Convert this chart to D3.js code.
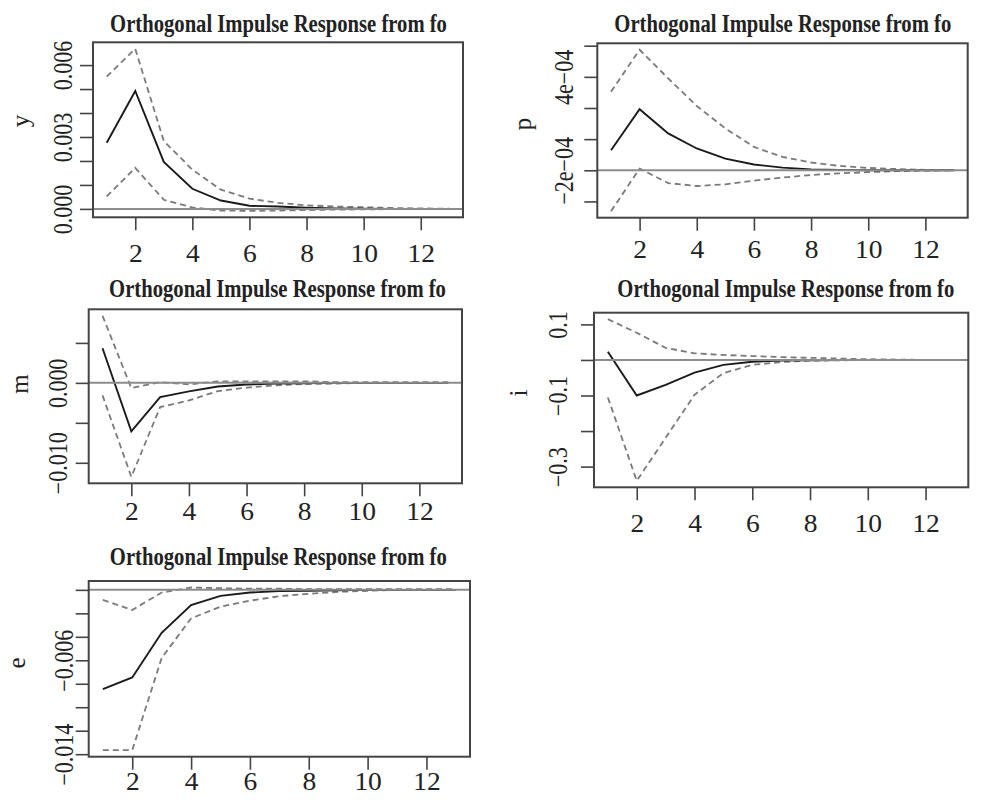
<!DOCTYPE html>
<html>
<head>
<meta charset="utf-8">
<script src="https://cdn.jsdelivr.net/npm/d3@7"></script>
<style>
  body { margin: 0; background: #fff; }
  svg text { font-family: "Liberation Serif", "Times New Roman", Times, serif; fill: #222; }
</style>
</head>
<body>
<div id="chart"></div>
<script>
// Horizonte (pasos) del impulso-respuesta
const steps = [1, 2, 3, 4, 5, 6, 7, 8, 9, 10, 11, 12, 13];
const xTicks = [2, 4, 6, 8, 10, 12];

// Respuesta de y
const yIrf   = [0.00276, 0.00492, 0.00196, 0.00084, 0.00035, 0.00013, 0.00010, 0.00005, 0.00002, 0.00001, 0, 0, 0];
const yUpper = [0.00552, 0.00668, 0.00283, 0.00164, 0.00080, 0.00043, 0.00025, 0.00015, 0.00010, 0.00007, 0.00004, 0.00002, 0.00001];
const yLower = [0.00052, 0.00171, 0.00038, 0.00006, -0.00007, -0.00008, -0.00007, -0.00005, -0.00003, -0.00002, -0.00001, 0, 0];
const yTicks = [0, 0.001, 0.002, 0.003, 0.004, 0.005, 0.006];
const yTickLabels = [[0, "0.000"], [0.003, "0.003"], [0.006, "0.006"]];

// Respuesta de p
const pIrf   = [-0.71e-4, 1.92e-4, 0.37e-4, -0.60e-4, -1.25e-4, -1.63e-4, -1.83e-4, -1.94e-4, -1.98e-4, -2.0e-4, -2.0e-4, -2.0e-4, -2.0e-4];
const pUpper = [3.05e-4, 5.74e-4, 3.9e-4, 2.13e-4, 0.69e-4, -0.5e-4, -1.14e-4, -1.5e-4, -1.72e-4, -1.85e-4, -1.92e-4, -1.97e-4, -1.99e-4];
const pLower = [-4.63e-4, -1.89e-4, -2.82e-4, -3.01e-4, -2.9e-4, -2.66e-4, -2.47e-4, -2.3e-4, -2.2e-4, -2.12e-4, -2.06e-4, -2.02e-4, -2.0e-4];
const pTicks = [-4e-4, -2e-4, 0, 2e-4, 4e-4, 6e-4];
const pTickLabels = [[4e-4, "4e\u221204"], [-2e-4, "\u22122e\u221204"]];

// Respuesta de m
const mIrf   = [0.00433, -0.00606, -0.00178, -0.00107, -0.00045, -0.00020, -0.00010, -0.00005, 0, 0, 0, 0, 0];
const mUpper = [0.0084, -0.00066, 0.0001, -0.0002, 0.0002, 0.0002, 0.0002, 0.0002, 0.0001, 0.0001, 0.0001, 0.0001, 0.0001];
const mLower = [-0.00157, -0.01176, -0.00303, -0.0022, -0.00103, -0.0006, -0.0003, -0.00015, -0.0001, 0, 0, 0, 0];
const mTicks = [-0.010, -0.005, 0, 0.005];
const mTickLabels = [[0, "0.000"], [-0.010, "\u22120.010"]];

// Respuesta de i
const iIrf   = [0.023, -0.100, -0.070, -0.0355, -0.014, -0.005, -0.002, -0.001, 0, 0, 0, 0, 0];
const iUpper = [0.1147, 0.0764, 0.034, 0.0186, 0.014, 0.011, 0.008, 0.006, 0.004, 0.002, 0.001, 0, 0];
const iLower = [-0.1055, -0.340, -0.219, -0.098, -0.037, -0.014, -0.006, -0.002, -0.001, 0, 0, 0, 0];
const iTicks = [-0.3, -0.2, -0.1, 0, 0.1];
const iTickLabels = [[0.1, "0.1"], [-0.1, "\u22120.1"], [-0.3, "\u22120.3"]];

// Respuesta de e
const eIrf   = [-0.00846, -0.00746, -0.00366, -0.00129, -0.00051, -0.00023, -0.0001, -0.00007, -0.00004, 0, 0, 0, 0];
const eUpper = [-0.00086, -0.00171, -0.00023, 0.0002, 0.00014, 0.0001, 0.0001, 0.00005, 0.00005, 0.00005, 0.00005, 0.00005, 0.00005];
const eLower = [-0.01366, -0.01366, -0.0058, -0.00243, -0.00143, -0.00092, -0.00054, -0.00034, -0.00017, -0.00008, 0, 0, 0];
const eTicks = [-0.014, -0.012, -0.010, -0.008, -0.006, -0.004, -0.002, 0];
const eTickLabels = [[-0.006, "\u22120.006"], [-0.014, "\u22120.014"]];

const titulo = "Orthogonal Impulse Response from fo";
const fuente = "'Liberation Serif', 'Times New Roman', Times, serif";

// Paneles: datos + posición de cada caja
const paneles = [
  { name: "y", irf: yIrf, upper: yUpper, lower: yLower, ticks: yTicks, labels: yTickLabels, ref: 0,
    box: [93, 463, 42.3, 217.3], titleX: 278.5, titleY: 31.7, xLabY: 261.7, yLabOff: 21, nameX: 29, nameY: 121 },
  { name: "p", irf: pIrf, upper: pUpper, lower: pLower, ticks: pTicks, labels: pTickLabels, ref: -2e-4,
    box: [597.3, 967.7, 43.3, 217.7], titleX: 782.8, titleY: 31.7, xLabY: 258.3, yLabOff: 24, nameX: 531, nameY: 124 },
  { name: "m", irf: mIrf, upper: mUpper, lower: mLower, ticks: mTicks, labels: mTickLabels, ref: 0,
    box: [88.7, 462, 309.3, 483.3], titleX: 277.5, titleY: 296.7, xLabY: 520, yLabOff: 22, nameX: 28, nameY: 384 },
  { name: "i", irf: iIrf, upper: iUpper, lower: iLower, ticks: iTicks, labels: iTickLabels, ref: 0,
    box: [594, 968.3, 312.7, 487.3], titleX: 785.8, titleY: 296.7, xLabY: 531.7, yLabOff: 27, nameX: 526.7, nameY: 393 },
  { name: "e", irf: eIrf, upper: eUpper, lower: eLower, ticks: eTicks, labels: eTickLabels, ref: 0,
    box: [88.7, 470, 581, 756.7], titleX: 278.3, titleY: 565, xLabY: 790, yLabOff: 16, nameX: 25, nameY: 663 }
];

const width = 981;
const height = 800;
const anchoTitulo = 337;
const estiroY = 1.2;   // grosor extra de las etiquetas giradas

const svg = d3.select("#chart")
  .append("svg")
  .attr("width", width)
  .attr("height", height);

// Rango con 4% de margen, como hace R
const rangoR = (valores) => {
  const [a, b] = d3.extent(valores);
  const pad = (b - a) * 0.04;
  return [a - pad, b + pad];
};

const dibujarPanel = (p) => {
  const [x0, x1, y0, y1] = p.box;
  const g = svg.append("g");

  const x = d3.scaleLinear().domain(rangoR(steps)).range([x0, x1]);
  const y = d3.scaleLinear().domain(rangoR([...p.upper, ...p.lower, ...p.irf])).range([y1, y0]);

  const linea = (serie) => d3.line()
    .x((d, i) => x(steps[i]))
    .y(d => y(d))(serie);

  g.append("path").attr("d", linea(p.upper))
    .attr("fill", "none").attr("stroke", "#7a7a7a").attr("stroke-width", 1.8).attr("stroke-dasharray", "6,4");
  g.append("path").attr("d", linea(p.lower))
    .attr("fill", "none").attr("stroke", "#7a7a7a").attr("stroke-width", 1.8).attr("stroke-dasharray", "6,4");
  g.append("path").attr("d", linea(p.irf))
    .attr("fill", "none").attr("stroke", "#1a1a1a").attr("stroke-width", 1.9);

  // linea de referencia horizontal
  g.append("line")
    .attr("x1", x0).attr("x2", x1)
    .attr("y1", y(p.ref)).attr("y2", y(p.ref))
    .attr("stroke", "#8c8c8c").attr("stroke-width", 2);

  // caja
  g.append("rect")
    .attr("x", x0).attr("y", y0)
    .attr("width", x1 - x0).attr("height", y1 - y0)
    .attr("fill", "none").attr("stroke", "#444").attr("stroke-width", 2);

  // eje x
  const ejeX = g.append("g")
    .attr("transform", `translate(0,${y1})`)
    .call(d3.axisBottom(x).tickValues(xTicks).tickSize(13).tickFormat(d3.format("d")));
  ejeX.attr("font-family", fuente);
  ejeX.select(".domain").remove();
  ejeX.selectAll(".tick line").attr("stroke", "#444").attr("stroke-width", 1.6);
  ejeX.selectAll(".tick text")
    .attr("y", p.xLabY - y1).attr("dy", null)
    .attr("transform", "scale(1.1,1)")
    .style("font-size", "25px").attr("fill", "#222");

  // eje y (etiquetas giradas)
  const etiquetas = new Map(p.labels);
  const ejeY = g.append("g")
    .attr("transform", `translate(${x0},0)`)
    .call(d3.axisLeft(y).tickValues(p.ticks).tickSize(13)
      .tickFormat(d => {
        for (const [v, t] of etiquetas) if (Math.abs(v - d) < 1e-12) return t;
        return "";
      }));
  ejeY.attr("font-family", fuente);
  ejeY.select(".domain").remove();
  ejeY.selectAll(".tick line").attr("stroke", "#444").attr("stroke-width", 1.6);
  ejeY.selectAll(".tick text")
    .attr("x", 0).attr("y", -p.yLabOff / estiroY).attr("dy", null)
    .attr("transform", `rotate(-90) scale(1,${estiroY})`)
    .attr("text-anchor", "middle")
    .style("font-size", "22px").attr("fill", "#222");

  // titulo, ajustado al ancho de la referencia
  const gt = g.append("g").attr("transform", `translate(${p.titleX},${p.titleY})`);
  const t = gt.append("text")
    .attr("text-anchor", "middle")
    .attr("font-weight", "bold")
    .attr("font-size", 25)
    .text(titulo);
  const largo = t.node().getComputedTextLength();
  t.attr("transform", `scale(${anchoTitulo / largo},1)`);

  // nombre de la variable
  g.append("text")
    .attr("transform", `translate(${p.nameX},${p.nameY}) rotate(-90)`)
    .attr("text-anchor", "middle")
    .attr("font-size", 25)
    .text(p.name);
};

paneles.forEach(dibujarPanel);
</script>
</body>
</html>
